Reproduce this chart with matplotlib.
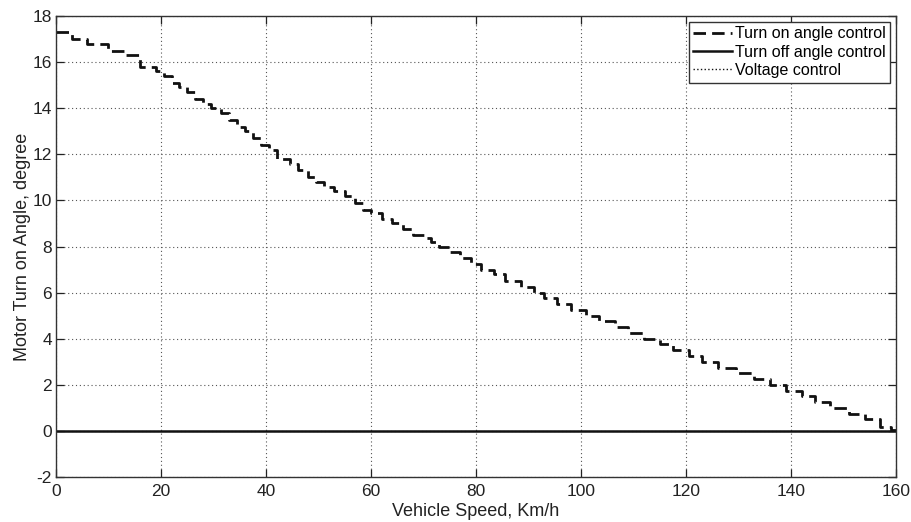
import matplotlib
matplotlib.use("Agg")
import matplotlib.pyplot as plt

plt.rcParams['font.family'] = ['Liberation Sans', 'DejaVu Sans']
plt.rcParams['axes.unicode_minus'] = False

# Turn-on angle schedule: speed (km/h) at which each step begins, and the angle (deg)
speed_steps = [0, 3, 6, 10, 13, 16, 19, 20.5, 22, 23.5, 25, 26.5, 28, 29.5,
               31.5, 33, 34.5, 36, 37.5, 39, 40.5, 42, 44.5, 46, 48, 49.5,
               51, 53, 55, 57, 58.5, 60, 62, 64, 66, 68, 70, 71.5, 73, 75,
               77, 79, 81, 83.5, 85.5, 88.5, 91, 93, 95.5, 98, 101, 103.5,
               106.5, 109, 112, 115, 117.5, 120.5, 123, 126, 129.5, 133, 136,
               139, 142, 144.5, 147.5, 151, 154, 157, 159, 160]
turn_on_angle = [17.3, 17.0, 16.8, 16.5, 16.3, 15.8, 15.6, 15.4, 15.1, 14.9,
                 14.7, 14.4, 14.2, 14.0, 13.8, 13.5, 13.2, 13.0, 12.7, 12.4,
                 12.2, 11.8, 11.6, 11.3, 11.0, 10.8, 10.6, 10.4, 10.2, 9.9,
                 9.6, 9.45, 9.2, 9.0, 8.75, 8.5, 8.35, 8.2, 8.0, 7.75, 7.5,
                 7.25, 7.0, 6.8, 6.5, 6.25, 6.0, 5.75, 5.5, 5.25, 5.0, 4.75,
                 4.5, 4.25, 4.0, 3.75, 3.5, 3.25, 3.0, 2.75, 2.5, 2.25, 2.0,
                 1.75, 1.5, 1.25, 1.0, 0.75, 0.5, 0.15, 0.05, 0.05]

# Turn-off angle held constant over the speed range
turn_off_speed = [0, 160]
turn_off_angle = [0, 0]

# Voltage control curve (no samples in this range)
voltage_speed = []
voltage_angle = []

x_ticks = [0, 20, 40, 60, 80, 100, 120, 140, 160]
y_ticks = [-2, 0, 2, 4, 6, 8, 10, 12, 14, 16, 18]

fig = plt.figure(figsize=(9.12, 5.22), dpi=100)
ax = fig.add_axes([0.0614, 0.0862, 0.9211, 0.8831])

ax.plot(speed_steps, turn_on_angle, drawstyle='steps-post', color='#111111',
        linestyle=(0, (4.5, 2.2)), linewidth=2.0, label='Turn on angle control')
ax.plot(turn_off_speed, turn_off_angle, color='#111111', linestyle='-',
        linewidth=1.8, label='Turn off angle control')
ax.plot(voltage_speed, voltage_angle, color='#111111', linestyle=':',
        linewidth=1.0, label='Voltage control')

ax.set_xlim(0, 160)
ax.set_ylim(-2, 18)
ax.set_xticks(x_ticks)
ax.set_yticks(y_ticks)
ax.tick_params(direction='in', top=True, right=True, labelsize=12.5,
               length=6, width=0.9, colors='#222222')
ax.tick_params(axis='x', pad=5)
ax.tick_params(axis='y', pad=3)
ax.grid(True, linestyle=(0, (1, 2.5)), color='#555555', linewidth=0.8)

for s in ax.spines.values():
    s.set_color('#333333')
    s.set_linewidth(1.0)

ax.set_xlabel('Vehicle Speed, Km/h', fontsize=13, color='#222222', labelpad=3)
ax.set_ylabel('Motor Turn on Angle, degree', fontsize=13, color='#222222',
              labelpad=1)

leg = ax.legend(loc='upper right', fontsize=11.5, handlelength=2.4,
                handletextpad=0.2, borderpad=0.3, labelspacing=0.2,
                fancybox=False, framealpha=1, edgecolor='#333333',
                borderaxespad=0.35)
leg.get_frame().set_linewidth(1.0)

fig.savefig('out.png', dpi=100, facecolor='white')
